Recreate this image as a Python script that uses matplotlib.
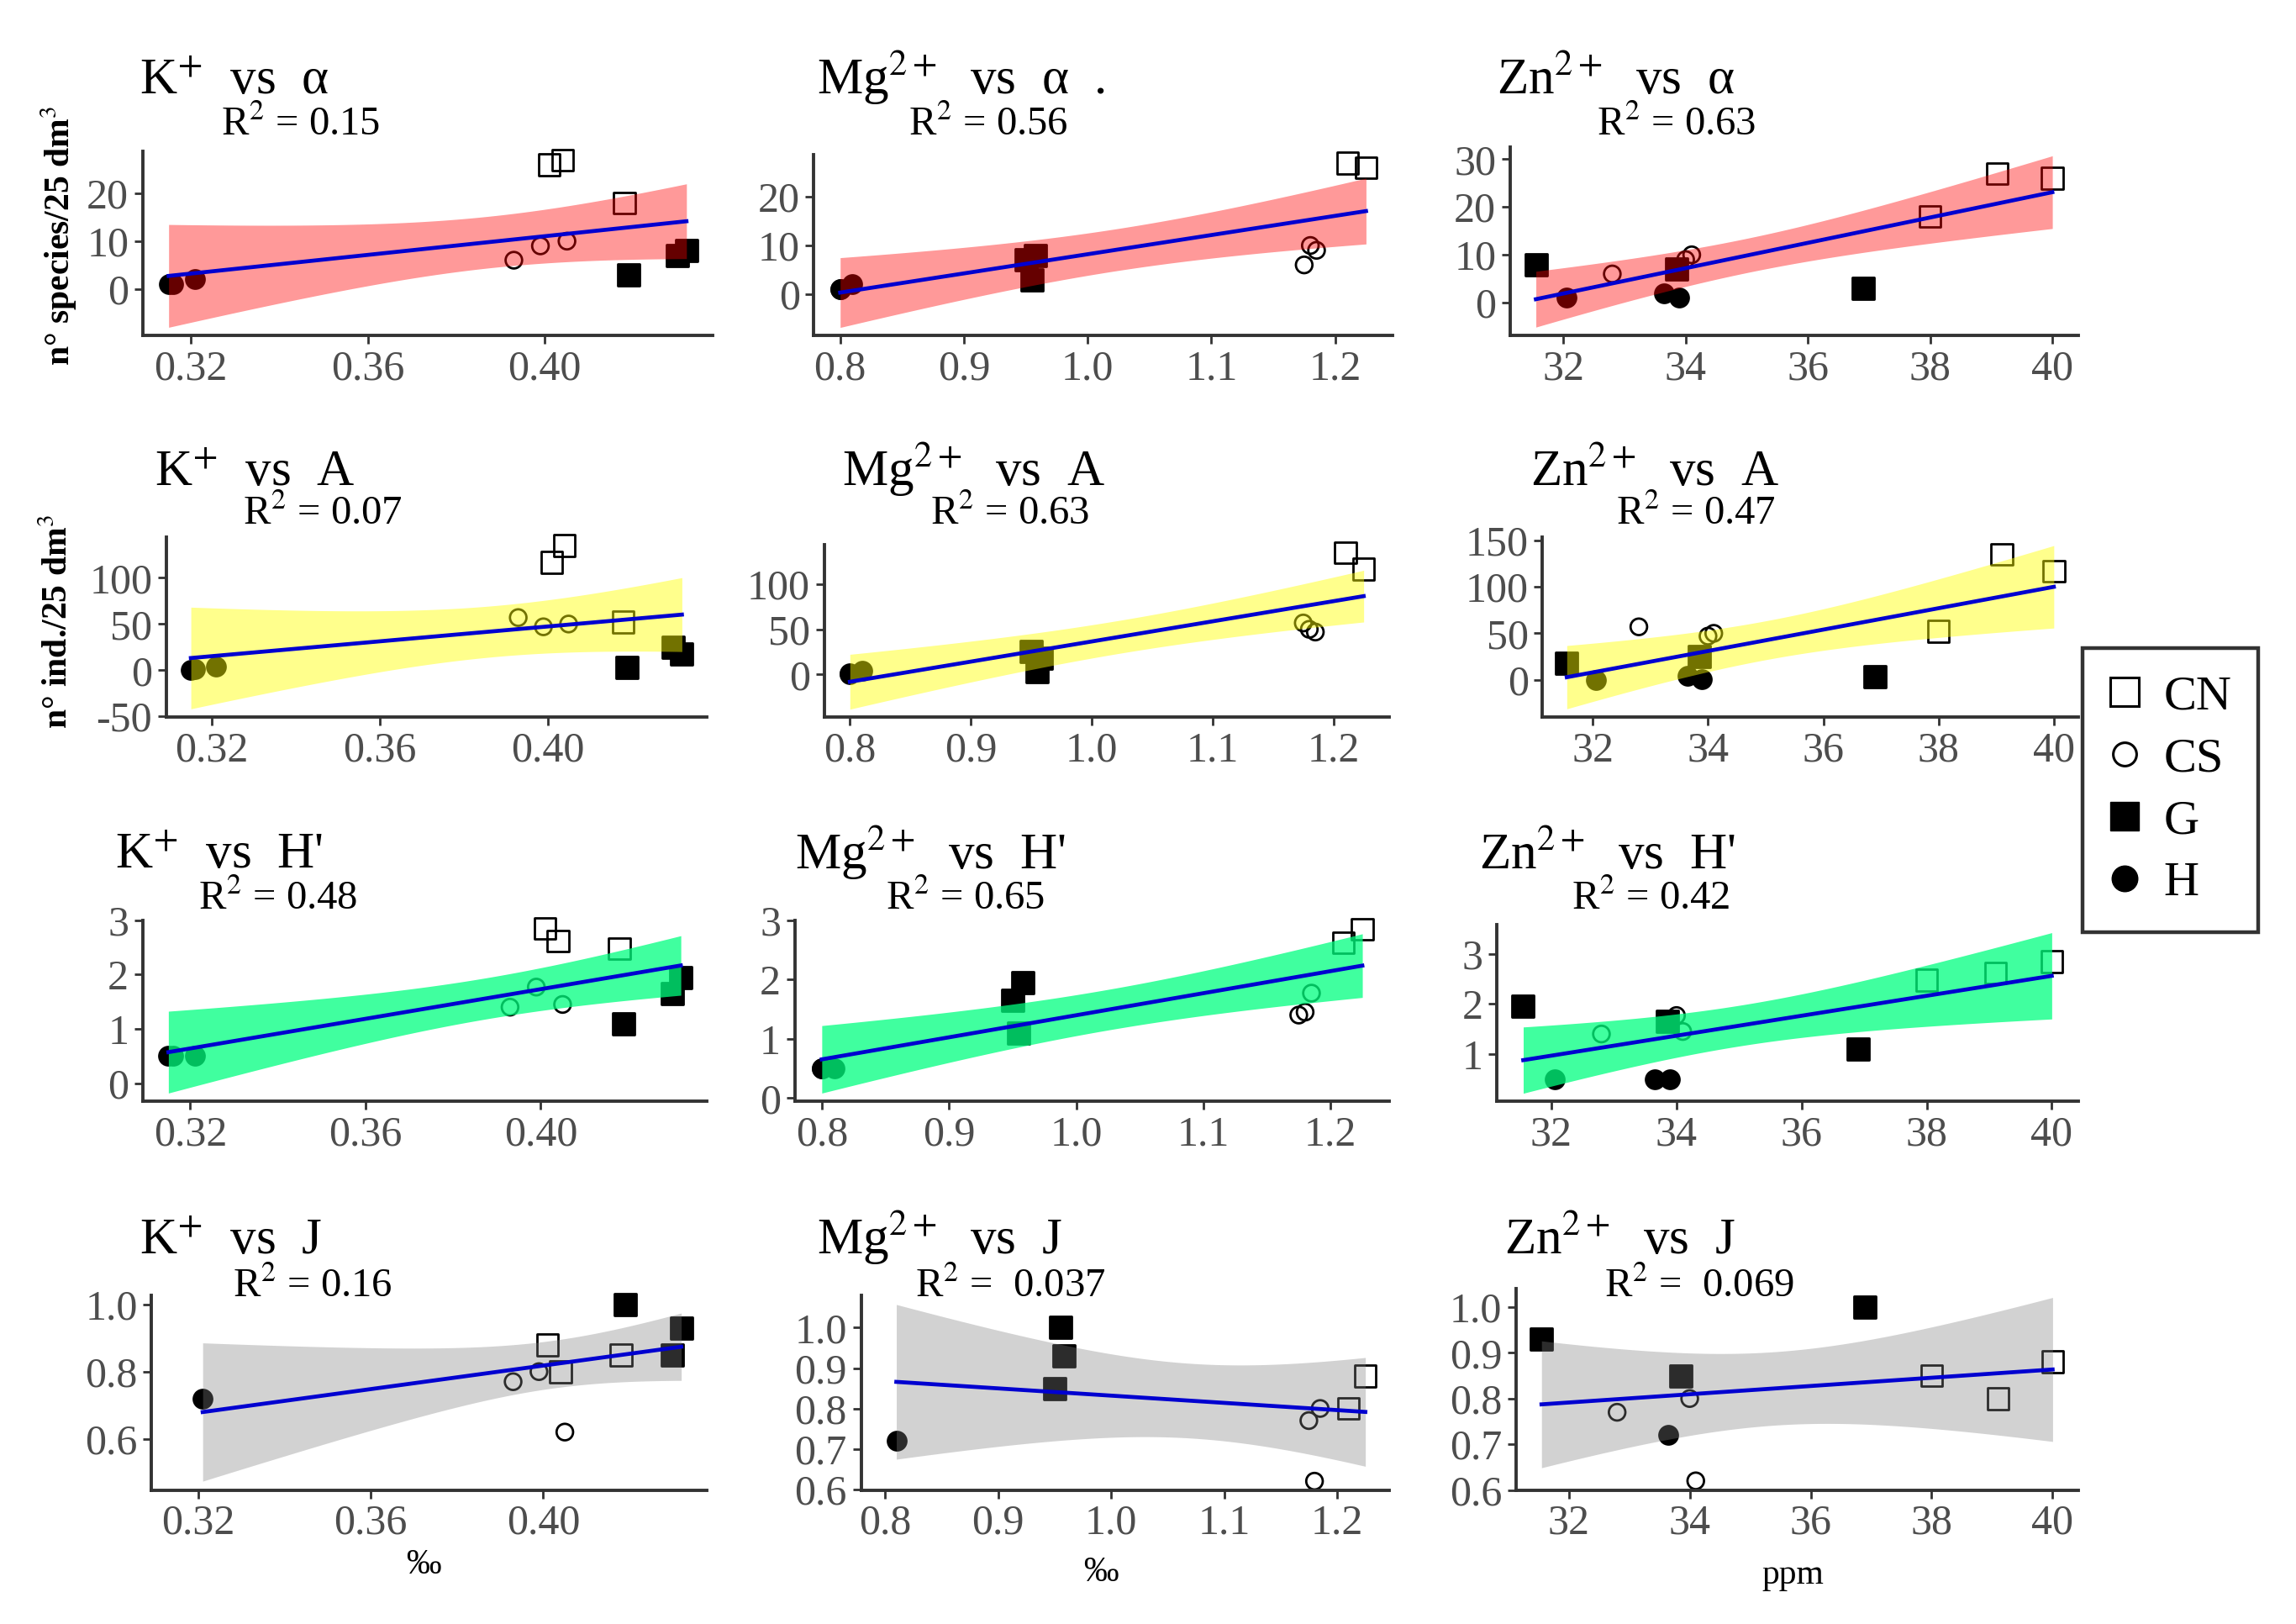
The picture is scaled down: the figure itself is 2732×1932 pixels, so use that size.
import numpy as np
import matplotlib
matplotlib.use("Agg")
import matplotlib.pyplot as plt
from matplotlib.lines import Line2D
from matplotlib.ticker import FormatStrFormatter

plt.rcParams["font.family"] = ["Liberation Serif", "DejaVu Serif"]
plt.rcParams["mathtext.fontset"] = "stix"

# sites: CN1-3, CS1-3, G1-3, H1-3
groups = ["CN", "CN", "CN", "CS", "CS", "CS", "G", "G", "G", "H", "H", "H"]

# soil ions
potassium = np.array([0.404, 0.401, 0.418, 0.393, 0.399, 0.405,
                      0.432, 0.430, 0.419, 0.315, 0.316, 0.321])
magnesium = np.array([1.210, 1.225, np.nan, 1.175, 1.185, 1.180,
                      0.958, 0.950, 0.955, 0.800, 0.800, 0.810])
zinc = np.array([39.1, 40.0, 38.0, 32.8, 34.0, 34.1,
                 31.55, 33.85, 36.9, 32.05, 33.9, 33.65])

# community indices
alpha_div = np.array([27, 26, 18, 6, 9, 10, 8, 7, 3, 1, 1, 2], dtype=float)
abundance = np.array([135, 117, 52, 57, 47, 50, 18, 25, 3, 0, 1, 4], dtype=float)
shannon = np.array([2.62, 2.85, 2.48, 1.40, 1.77, 1.45,
                    1.95, 1.65, 1.10, 0.50, 0.50, 0.50])
evenness = np.array([0.80, 0.88, 0.85, 0.77, 0.80, 0.62,
                     0.93, 0.85, 1.00, np.nan, np.nan, 0.72])

ion_names = ["K$^{+}$", "Mg$^{2+}$", "Zn$^{2+}$"]
index_names = ["α", "A", "H'", "J"]
r2_labels = [["0.15", "0.56", "0.63"],
             ["0.07", "0.63", "0.47"],
             ["0.48", "0.65", "0.42"],
             ["0.16", " 0.037", " 0.069"]]

x_ticks = [[0.32, 0.36, 0.40], [0.8, 0.9, 1.0, 1.1, 1.2], [32, 34, 36, 38, 40]]
x_fmt = ["%.2f", "%.1f", "%d"]
y_ticks = [[[0, 10, 20], [0, 10, 20], [0, 10, 20, 30]],
           [[-50, 0, 50, 100], [0, 50, 100], [0, 50, 100, 150]],
           [[0, 1, 2, 3], [0, 1, 2, 3], [1, 2, 3]],
           [[0.6, 0.8, 1.0], [0.6, 0.7, 0.8, 0.9, 1.0], [0.6, 0.7, 0.8, 0.9, 1.0]]]
y_fmt = ["%d", "%d", "%d", "%.1f"]

ions = [potassium, magnesium, zinc]
indices = [alpha_div, abundance, shannon, evenness]

band_colors = [("#FF0000", 0.40), ("#FFFF00", 0.45), ("#00FF7F", 0.75), ("#808080", 0.35)]

marker_style = {
    "CN": dict(marker="s", facecolors="none", edgecolors="black", s=340),
    "CS": dict(marker="o", facecolors="none", edgecolors="black", s=200),
    "G": dict(marker="s", facecolors="black", edgecolors="black", s=330),
    "H": dict(marker="o", facecolors="black", edgecolors="black", s=250),
}

# 97.5% quantile of Student's t by degrees of freedom
T975 = {5: 2.571, 6: 2.447, 7: 2.365, 8: 2.306, 9: 2.262, 10: 2.228}

# panel boxes in reference pixels (left, top, right, bottom) on a 1560x1103 canvas
W, H = 1560.0, 1103.0
boxes = [[(97, 103, 484, 228), (553, 105, 946, 228), (1026, 100, 1412, 228)],
         [(113, 365, 480, 487), (560, 370, 944, 487), (1048, 365, 1412, 487)],
         [(97, 625, 480, 748), (540, 625, 944, 748), (1017, 628, 1412, 748)],
         [(103, 880, 480, 1012), (585, 880, 944, 1012), (1030, 875, 1412, 1012)]]
title_pos = [[(95, 64), (555, 64), (1017, 64)],
             [(105, 330), (572, 330), (1040, 330)],
             [(78, 590), (540, 590), (1005, 590)],
             [(95, 852), (555, 852), (1022, 852)]]
r2_pos = [[(150, 92), (617, 92), (1085, 92)],
          [(165, 356), (632, 356), (1098, 356)],
          [(135, 618), (602, 618), (1068, 618)],
          [(158, 881), (622, 881), (1090, 881)]]


def lm_band(x, y, n_grid=80):
    ok = ~np.isnan(x) & ~np.isnan(y)
    x, y = x[ok], y[ok]
    n = len(x)
    slope, icpt = np.polyfit(x, y, 1)
    grid = np.linspace(x.min(), x.max(), n_grid)
    fit = icpt + slope * grid
    resid = y - (icpt + slope * x)
    s = np.sqrt(np.sum(resid ** 2) / (n - 2))
    sxx = np.sum((x - x.mean()) ** 2)
    se = s * np.sqrt(1.0 / n + (grid - x.mean()) ** 2 / sxx)
    t = T975[n - 2]
    return grid, fit, fit - t * se, fit + t * se


fig = plt.figure(figsize=(27.32, 19.32), dpi=100)
grp = np.array(groups)

for r, yv in enumerate(indices):
    for c, xv in enumerate(ions):
        l, t, rr, b = boxes[r][c]
        ax = fig.add_axes([l / W, 1 - b / H, (rr - l) / W, (b - t) / H])
        for g in ["CN", "CS", "G", "H"]:
            m = grp == g
            ax.scatter(xv[m], yv[m], linewidths=2, zorder=2, clip_on=False,
                       **marker_style[g])
        grid, fit, lo, hi = lm_band(xv, yv)
        col, a = band_colors[r]
        ax.fill_between(grid, lo, hi, color=col, alpha=a, lw=0, zorder=3)
        ax.plot(grid, fit, color="#0000D0", lw=3.4, zorder=4)

        xs = xv[~np.isnan(xv)]
        xr = xs.max() - xs.min()
        ax.set_xlim(xs.min() - 0.05 * xr, xs.max() + 0.05 * xr)
        ys = np.concatenate([yv[~np.isnan(yv)], lo, hi])
        yr = ys.max() - ys.min()
        ax.set_ylim(ys.min() - 0.05 * yr, ys.max() + 0.05 * yr)

        ax.set_xticks(x_ticks[c])
        ax.set_yticks(y_ticks[r][c])
        ax.xaxis.set_major_formatter(FormatStrFormatter(x_fmt[c]))
        ax.yaxis.set_major_formatter(FormatStrFormatter(y_fmt[r]))
        for side in ["top", "right"]:
            ax.spines[side].set_visible(False)
        for side in ["left", "bottom"]:
            ax.spines[side].set_color("#333333")
            ax.spines[side].set_linewidth(2.8)
        ax.tick_params(direction="out", length=7, width=2, color="#333333",
                       labelcolor="#4D4D4D", labelsize=36, pad=5)

        tx, ty = title_pos[r][c]
        dot = "  ." if (r == 0 and c == 1) else ""
        fig.text(tx / W, 1 - ty / H, f"{ion_names[c]}  vs  {index_names[r]}{dot}",
                 fontsize=44, va="baseline", ha="left")
        rx, ry = r2_pos[r][c]
        fig.text(rx / W, 1 - ry / H, f"R$^{{2}}$ = {r2_labels[r][c]}",
                 fontsize=35, va="baseline", ha="left")

fig.text(40 / W, 1 - 160 / H, "n° species/25 dm$^{3}$", rotation=90,
         fontsize=30, fontweight="bold", ha="center", va="center")
fig.text(40 / W, 1 - 422 / H, "n° ind./25 dm$^{3}$", rotation=90,
         fontsize=30, fontweight="bold", ha="center", va="center")
fig.text(288 / W, 1 - 1063 / H, "‰", fontsize=30, ha="center", va="center")
fig.text(748 / W, 1 - 1068 / H, "‰", fontsize=30, ha="center", va="center")
fig.text(1218 / W, 1 - 1070 / H, "ppm", fontsize=30, ha="center", va="center")

handles = [
    Line2D([], [], ls="none", marker="s", mfc="none", mec="black", ms=24, mew=2.2),
    Line2D([], [], ls="none", marker="o", mfc="none", mec="black", ms=20, mew=2.2),
    Line2D([], [], ls="none", marker="s", mfc="black", mec="black", ms=24),
    Line2D([], [], ls="none", marker="o", mfc="black", mec="black", ms=22),
]
leg = fig.legend(handles, ["CN", "CS", "G", "H"], loc="upper left",
                 bbox_to_anchor=(1415 / W, 1 - 440 / H), fontsize=42,
                 frameon=True, fancybox=False, edgecolor="black",
                 handlelength=0.6, handletextpad=0.5, borderpad=0.55,
                 labelspacing=0.36, borderaxespad=0)
leg.get_frame().set_linewidth(3.2)

fig.savefig("out.png", dpi=100, facecolor="white")
